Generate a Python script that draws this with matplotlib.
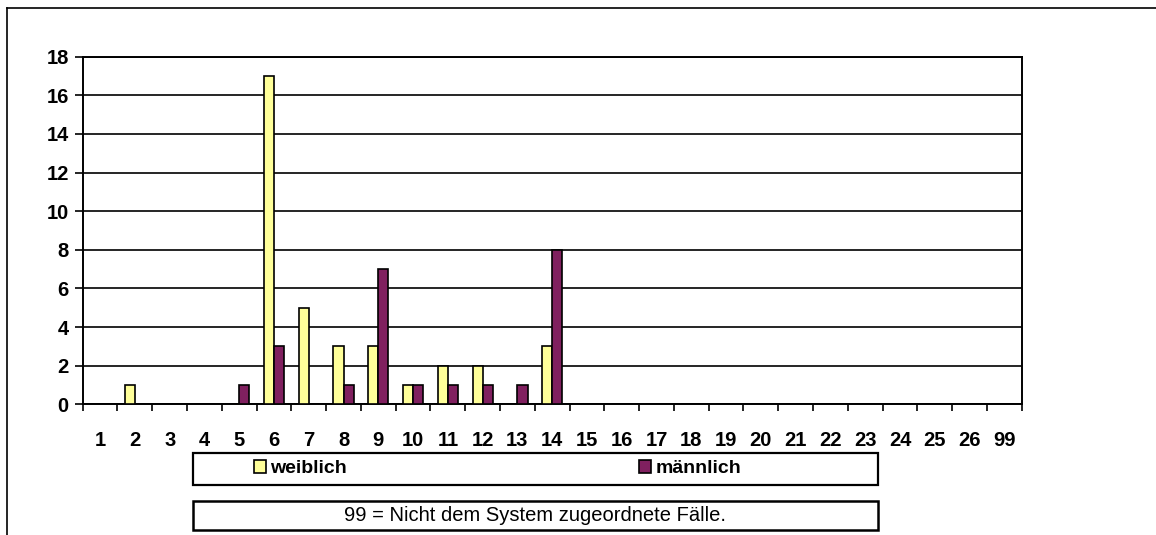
import matplotlib
matplotlib.use("Agg")
import matplotlib.pyplot as plt
from matplotlib.patches import Rectangle, Patch
from matplotlib.lines import Line2D
import numpy as np

categories = [str(i) for i in range(1, 27)] + ["99"]
weiblich = [0, 1, 0, 0, 0, 17, 5, 3, 3, 1, 2, 2, 0, 3, 0, 0, 0, 0, 0, 0, 0, 0, 0, 0, 0, 0, 0]
maennlich = [0, 0, 0, 0, 1, 3, 0, 1, 7, 1, 1, 1, 1, 8, 0, 0, 0, 0, 0, 0, 0, 0, 0, 0, 0, 0, 0]
series_names = ["weiblich", "männlich"]
note_text = "99 = Nicht dem System zugeordnete Fälle."

col_w = "#FFFF99"
col_m = "#80205F"

plt.rcParams['font.family'] = ['Liberation Sans', 'DejaVu Sans']

W, H = 1156, 535
fig = plt.figure(figsize=(W / 100, H / 100), dpi=100)

def fx(px):
    return px / W

def fy(py):
    return 1 - py / H

left, right, top, bottom = 82.7, 1021.7, 56.7, 404.3
ax = fig.add_axes([fx(left), fy(bottom), fx(right) - fx(left), fy(top) - fy(bottom)])

x = np.arange(len(categories))
bw = 0.29
ax.bar(x - bw / 2, weiblich, width=bw, color=col_w, edgecolor="black", linewidth=1.2, zorder=3)
ax.bar(x + bw / 2, maennlich, width=bw, color=col_m, edgecolor="black", linewidth=1.2, zorder=3)

ax.set_xlim(-0.5, len(categories) - 0.5)
ax.set_ylim(0, 18)
ax.set_yticks(range(0, 19, 2))
ax.set_yticklabels([str(v) for v in range(0, 19, 2)], fontsize=14.5, fontweight="bold")
ax.set_xticks(x)
ax.set_xticklabels(categories, fontsize=14.5, fontweight="bold")
ax.tick_params(axis="x", which="major", length=0, pad=19)
ax.set_xticks(np.arange(-0.5, len(categories), 1.0), minor=True)
ax.tick_params(axis="x", which="minor", length=5, width=1.2, direction="out", color="black")
ax.tick_params(axis="y", length=6, width=1.2, direction="out", pad=4)

ax.grid(axis="y", color="black", linewidth=1.2, zorder=0)
ax.set_axisbelow(True)
for s in ["left", "right", "bottom", "top"]:
    ax.spines[s].set_linewidth(1.4)
    ax.spines[s].set_color("black")

# Legend box
lx0, lx1, ly0, ly1 = 192.5, 878, 452.5, 485
fig.patches.append(Rectangle((fx(lx0), fy(ly1)), fx(lx1) - fx(lx0), fy(ly0) - fy(ly1),
                             transform=fig.transFigure, fill=False, edgecolor="black",
                             linewidth=1.6, zorder=1))
handles = [Patch(facecolor=col_w, edgecolor="black", linewidth=1.2),
           Patch(facecolor=col_m, edgecolor="black", linewidth=1.2)]
fig.legend(handles, series_names, loc="center left",
           bbox_to_anchor=(fx(254), fy((ly0 + ly1) / 2)), ncol=2, frameon=False,
           prop={"size": 14, "weight": "bold"}, handlelength=0.6, handleheight=0.6,
           handletextpad=0.25, columnspacing=15.0, borderpad=0, borderaxespad=0)

# Note box
nx0, nx1, ny0, ny1 = 192.5, 878, 501, 530
fig.patches.append(Rectangle((fx(nx0), fy(ny1)), fx(nx1) - fx(nx0), fy(ny0) - fy(ny1),
                             transform=fig.transFigure, fill=False, edgecolor="black",
                             linewidth=1.8, zorder=1))
fig.text(fx((nx0 + nx1) / 2), fy((ny0 + ny1) / 2), note_text, ha="center", va="center",
         fontsize=14.5)

# Outer chart frame
fig.add_artist(Line2D([fx(6.5), 1.0], [fy(8.3), fy(8.3)], transform=fig.transFigure,
                      color="black", linewidth=1.2))
fig.add_artist(Line2D([fx(6.5), fx(6.5)], [fy(8.3), 0.0], transform=fig.transFigure,
                      color="black", linewidth=1.2))

fig.savefig("out.png", dpi=100)
